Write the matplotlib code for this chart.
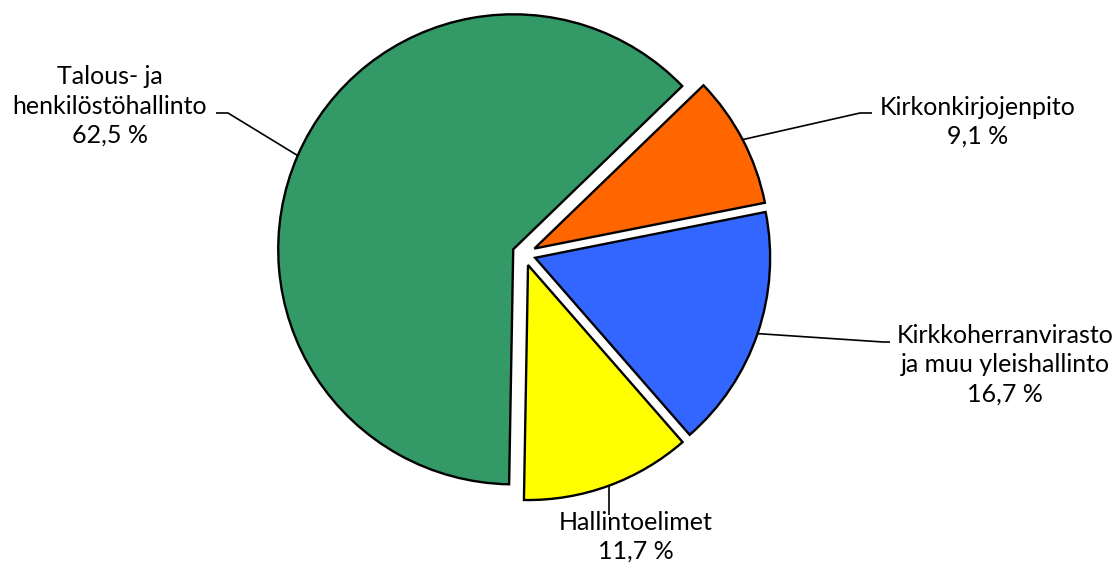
import numpy as np
import matplotlib.pyplot as plt

# data (pie order: counterclockwise from the start angle)
names = ["Talous- ja\nhenkilöstöhallinto", "Hallintoelimet",
         "Kirkkoherranvirasto\nja muu yleishallinto", "Kirkonkirjojenpito"]
shares = [62.5, 11.7, 16.7, 9.1]
colors = ["#339966", "#FFFF00", "#3366FF", "#FF6600"]

# layout, in pixels (y up)
W, H = 1120, 567
cx, cy, R = 524, 567 - 254, 235
# text position and elbow point of each leader
lab_pos = [(110, 567 - 106), (636, 567 - 537), (1005, 567 - 365), (978, 567 - 122)]
elbow = [(228, 567 - 113), (None, 567 - 515), (883, 567 - 342), (860, 567 - 113)]
tail = [(216, 567 - 113), None, (890, 567 - 342), (872, 567 - 113)]

plt.rcParams['font.family'] = ['Lato', 'DejaVu Sans']

fig = plt.figure(figsize=(W / 100, H / 100), dpi=100)
ax = fig.add_axes([0, 0, 1, 1])

# explode is in data units here, ~5 % of the radius
wedges, _ = ax.pie(shares, colors=colors, startangle=44, counterclock=True,
                   explode=[0.05 * R] * len(shares), radius=R, center=(cx, cy),
                   wedgeprops=dict(edgecolor="black", linewidth=1.7))

for i, w in enumerate(wedges):
    mid = np.deg2rad((w.theta1 + w.theta2) / 2)
    wx, wy = w.center
    ax0 = wx + R * np.cos(mid)
    ay0 = wy + R * np.sin(mid)
    ex, ey = elbow[i]
    if ex is None:
        ex = ax0
    xs = [ax0, ex]
    ys = [ay0, ey]
    if tail[i] is not None:
        xs.append(tail[i][0])
        ys.append(tail[i][1])
    ax.plot(xs, ys, color="black", lw=1.2, solid_capstyle="butt")
    pct = f"{shares[i]:.1f}".replace(".", ",") + " %"
    ax.text(lab_pos[i][0], lab_pos[i][1], names[i] + "\n" + pct,
            ha="center", va="center", fontsize=18, linespacing=1.32)

ax.set_xlim(0, W)
ax.set_ylim(0, H)
ax.set_aspect("equal")
ax.axis("off")

fig.savefig("out.png", dpi=100)
